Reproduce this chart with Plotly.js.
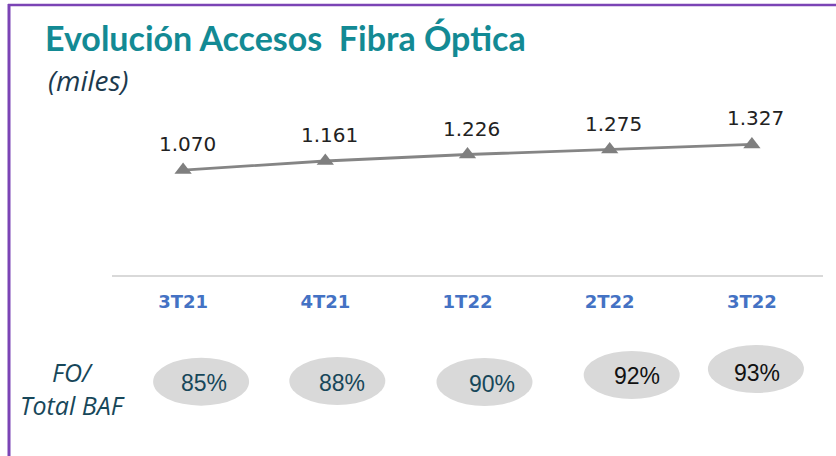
<!DOCTYPE html>
<html>
<head>
<meta charset="utf-8">
<script src="https://cdn.plot.ly/plotly-3.0.1.min.js"></script>
<style>
  html, body { margin: 0; padding: 0; background: #ffffff; }
  #chart { width: 836px; height: 456px; }
</style>
</head>
<body>
<div id="chart"></div>
<script>
// ---- data ----
const categories = ['3T21', '4T21', '1T22', '2T22', '3T22'];
const accesos = [1070, 1161, 1226, 1275, 1327];
const accesosLabels = ['1.070', '1.161', '1.226', '1.275', '1.327'];
const ratioFO = [85, 88, 90, 92, 93];
const ratioLabels = ['85%', '88%', '90%', '92%', '93%'];

// ---- layout geometry (pixels) ----
const W = 836, H = 456;
const M = { l: 112, r: 13, t: 100, b: 181 };
const plotW = W - M.l - M.r, plotH = H - M.t - M.b;
const px2x = px => (px - M.l) / plotW;
const py2y = py => (H - M.b - py) / plotH;

// pill (ellipse) placement for the FO/Total BAF row
const pillDx = [18, 12, 17, 22, 4];
const pillY = [381.7, 381, 382, 375, 369];
const pillTextDx = [21, 17, 24, 27, 5];
const pillTextY = [383, 383, 384, 375.5, 372.5];
const pillTextColor = ['#17475A', '#17475A', '#17475A', '#111111', '#111111'];

const trace = {
  x: categories,
  y: accesos,
  type: 'scatter',
  mode: 'lines+markers',
  line: { color: '#858585', width: 2.8 },
  marker: { symbol: 'triangle-up', size: 15, color: '#7F7F7F' },
  hoverinfo: 'skip',
  cliponaxis: false
};

const shapes = [];
const annotations = [];

// purple frame (top + left)
shapes.push({ type: 'line', xref: 'paper', yref: 'paper',
  x0: px2x(8), x1: px2x(W + 2), y0: py2y(5), y1: py2y(5),
  line: { color: '#7B44B5', width: 2.6 } });
shapes.push({ type: 'line', xref: 'paper', yref: 'paper',
  x0: px2x(9), x1: px2x(9), y0: py2y(4), y1: py2y(H + 2),
  line: { color: '#7B44B5', width: 3 } });

// data labels
categories.forEach((c, i) => {
  annotations.push({ x: c, y: accesos[i], xref: 'x', yref: 'y',
    text: accesosLabels[i], showarrow: false, xshift: 4, yshift: 26,
    font: { family: 'DejaVu Sans', size: 20, color: '#222222' } });
});

// pills
categories.forEach((c, i) => {
  shapes.push({ type: 'circle', xref: 'x', yref: 'paper',
    xsizemode: 'pixel', ysizemode: 'pixel',
    xanchor: i, yanchor: py2y(pillY[i]),
    x0: pillDx[i] - 48, x1: pillDx[i] + 48, y0: -24, y1: 24,
    fillcolor: '#D9D9D9', line: { width: 0 }, layer: 'above' });
  annotations.push({ x: i, y: py2y(pillTextY[i]), xref: 'x', yref: 'paper',
    xanchor: 'center', yanchor: 'middle',
    xshift: pillTextDx[i], text: ratioLabels[i], showarrow: false,
    font: { family: 'Liberation Sans, Arial, sans-serif', size: 23, color: pillTextColor[i] } });
});

// titles & row label
annotations.push({ xref: 'paper', yref: 'paper', x: px2x(43), y: py2y(38),
  xanchor: 'left', yanchor: 'middle', showarrow: false,
  text: '<b>Evolución Accesos\u00A0 Fibra Óptica</b>',
  font: { family: 'Lato, Open Sans, sans-serif', size: 34, color: '#138A94' } });
annotations.push({ xref: 'paper', yref: 'paper', x: px2x(46), y: py2y(80),
  xanchor: 'left', yanchor: 'middle', showarrow: false,
  text: '<i>(miles)</i>',
  font: { family: 'Open Sans, Lato, sans-serif', size: 28, color: '#1C3A4E' } });
annotations.push({ xref: 'paper', yref: 'paper', x: px2x(72), y: py2y(388),
  xanchor: 'center', yanchor: 'middle', showarrow: false, align: 'center',
  text: '<i>FO/<br>Total BAF</i>',
  font: { family: 'Open Sans, Lato, sans-serif', size: 25, color: '#17475A' } });

const layout = {
  width: W, height: H,
  margin: M,
  paper_bgcolor: '#ffffff', plot_bgcolor: '#ffffff',
  showlegend: false,
  xaxis: {
    type: 'category', range: [-0.5, 4.5], fixedrange: true,
    showgrid: false, zeroline: false,
    showline: true, linecolor: '#D9D9D9', linewidth: 2,
    ticks: '', ticklabelstandoff: 9,
    tickfont: { family: 'DejaVu Sans', size: 18, color: '#4472C4', weight: 'bold' }
  },
  yaxis: { range: [21, 1771], visible: false, fixedrange: true },
  shapes: shapes,
  annotations: annotations
};

Plotly.newPlot('chart', [trace], layout, { displayModeBar: false, staticPlot: true });
</script>
</body>
</html>
